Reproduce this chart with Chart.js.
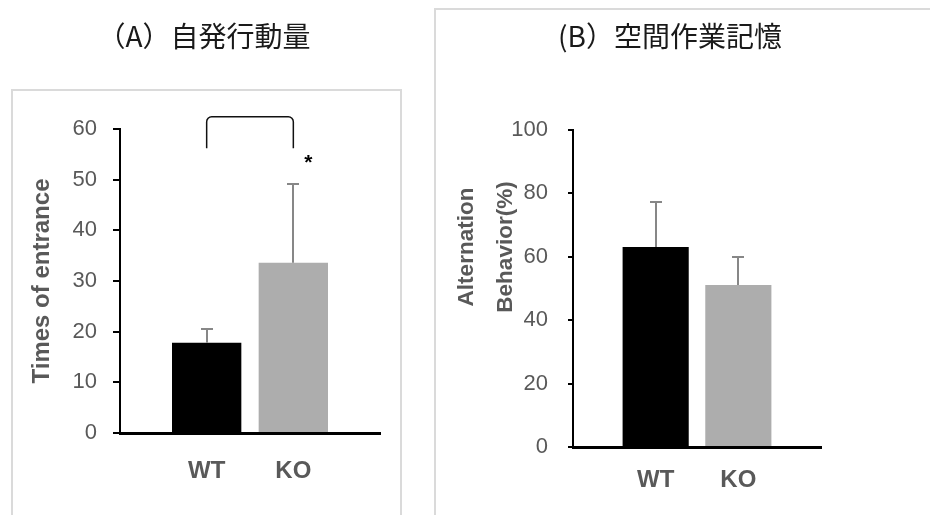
<!DOCTYPE html>
<html><head><meta charset="utf-8">
<script src="https://cdn.jsdelivr.net/npm/chart.js@4"></script>
<style>
html,body{margin:0;padding:0;background:#fff;width:930px;height:515px;overflow:hidden;position:relative}
.panel{position:absolute;box-sizing:border-box;border:2px solid #dadada;}
#pa{left:11px;top:89px;width:391px;height:500px}
#pb{left:434px;top:8px;width:600px;height:600px}
#ca{position:absolute;left:0;top:0}
#cb{position:absolute;left:410px;top:0}
.ttl{position:absolute;width:400px;text-align:center;font-family:"Noto Sans CJK JP",sans-serif;font-size:28px;line-height:28px;color:#1a1a1a;white-space:nowrap}
#ta{left:4px;top:21px}
#tb{left:470px;top:21px}
</style></head>
<body>
<div class="panel" id="pa"></div><div class="panel" id="pb"></div>
<canvas id="ca" width="420" height="515"></canvas>
<canvas id="cb" width="520" height="515"></canvas>
<div class="ttl" id="ta"></div>
<div class="ttl" id="tb"></div>
<script>
// ---- data ----
const groups = ['WT', 'KO'];
const entranceMeans = [17.8, 33.6];
const entranceErrors = [2.7, 15.5];
const entranceTicks = [0, 10, 20, 30, 40, 50, 60];
const alternationMeans = [63.1, 51.1];
const alternationErrors = [14.2, 8.8];
const alternationTicks = [0, 20, 40, 60, 80, 100];
const titleA = '（A）自発行動量';
const titleB = '(B）空間作業記憶';
const yTitleA = 'Times of entrance';
const yTitleB = ['Alternation', 'Behavior(%)'];
const barColors = ['#000000', '#adadad'];
const significanceMark = '*';

document.getElementById('ta').textContent = titleA;
document.getElementById('tb').textContent = titleB;

// ---- helpers ----
const pad = arr => [null, ...arr, null];
const padLabels = ['', ...groups, ''];

const errorBars = {
  id: 'errorBars',
  afterDatasetsDraw(chart, args, opts) {
    const {ctx} = chart;
    const meta = chart.getDatasetMeta(0);
    const ys = chart.scales.y;
    const vals = chart.data.datasets[0].data;
    ctx.save();
    ctx.strokeStyle = opts.color;
    ctx.lineWidth = opts.width;
    meta.data.forEach((el, i) => {
      const v = vals[i], e = opts.errors[i];
      if (v == null || e == null) return;
      const x = Math.round(el.x);
      const y0 = ys.getPixelForValue(v);
      const y1 = Math.round(ys.getPixelForValue(v + e));
      ctx.beginPath();
      ctx.moveTo(x, y0);
      ctx.lineTo(x, y1);
      ctx.moveTo(x - opts.cap, y1);
      ctx.lineTo(x + opts.cap, y1);
      ctx.stroke();
    });
    ctx.restore();
  }
};

const bracket = {
  id: 'bracket',
  afterDatasetsDraw(chart, args, opts) {
    if (!opts || !opts.show) return;
    const {ctx} = chart;
    const xs = chart.scales.x, ys = chart.scales.y;
    const x1 = xs.getPixelForValue(padLabels.indexOf(opts.from));
    const x2 = xs.getPixelForValue(padLabels.indexOf(opts.to));
    const yt = ys.getPixelForValue(opts.top);
    const yb = ys.getPixelForValue(opts.bottom);
    const r = 5;
    ctx.save();
    ctx.strokeStyle = '#111';
    ctx.lineWidth = 1.5;
    ctx.beginPath();
    ctx.moveTo(x1, yb);
    ctx.lineTo(x1, yt + r);
    ctx.arcTo(x1, yt, x1 + r, yt, r);
    ctx.lineTo(x2 - r, yt);
    ctx.arcTo(x2, yt, x2, yt + r, r);
    ctx.lineTo(x2, yb);
    ctx.stroke();
    ctx.fillStyle = '#000';
    ctx.font = 'bold 21px "Liberation Sans", Arial, sans-serif';
    ctx.textAlign = 'center';
    ctx.textBaseline = 'middle';
    ctx.fillText(significanceMark, x2 + 15, ys.getPixelForValue(opts.star));
    ctx.restore();
  }
};

const sideTitle = {
  id: 'sideTitle',
  afterDraw(chart, args, opts) {
    if (!opts || !opts.lines) return;
    const {ctx, chartArea} = chart;
    ctx.save();
    ctx.fillStyle = '#595959';
    ctx.font = 'bold 22.5px "Liberation Sans", Arial, sans-serif';
    ctx.textAlign = 'center';
    ctx.textBaseline = 'middle';
    opts.lines.forEach((t, i) => {
      ctx.save();
      ctx.translate(chartArea.left + opts.offsets[i], chartArea.top + opts.dy);
      ctx.rotate(-Math.PI / 2);
      ctx.fillText(t, 0, 0);
      ctx.restore();
    });
    ctx.restore();
  }
};

function makeChart(id, cfg) {
  return new Chart(document.getElementById(id), {
    type: 'bar',
    data: {
      labels: padLabels,
      datasets: [{
        data: pad(cfg.means),
        backgroundColor: pad(barColors).map(c => c || 'transparent'),
        borderWidth: 0,
        barPercentage: 0.8,
        categoryPercentage: 1.0
      }]
    },
    options: {
      responsive: false,
      animation: false,
      events: [],
      layout: {padding: {left: 0, right: cfg.padRight, top: cfg.padTop, bottom: 0}},
      plugins: {
        legend: {display: false},
        tooltip: {enabled: false},
        title: {display: false},
        errorBars: {errors: pad(cfg.errors), color: '#878787', width: 2, cap: 6},
        bracket: cfg.bracket || {show: false},
        sideTitle: cfg.sideTitle || {}
      },
      scales: {
        x: {
          type: 'category',
          offset: false,
          grid: {display: false, drawTicks: false},
          border: {display: true, color: '#000', width: 3},
          ticks: {
            autoSkip: false, maxRotation: 0, minRotation: 0,
            color: '#595959',
            font: {family: '"Liberation Sans", Arial, sans-serif', size: 24, weight: 'bold', lineHeight: 1.2},
            padding: cfg.xPad
          },
          afterFit: s => { s.height = cfg.xHeight; }
        },
        y: {
          min: cfg.ticks[0],
          max: cfg.ticks[cfg.ticks.length - 1],
          afterBuildTicks: s => { s.ticks = cfg.ticks.map(v => ({value: v})); },
          grid: {display: true, drawOnChartArea: false, drawTicks: true, tickLength: cfg.tickLen, color: '#000', lineWidth: 2},
          border: {display: true, color: '#000', width: 2},
          ticks: {
            color: '#595959',
            font: {family: '"Liberation Sans", Arial, sans-serif', size: 22},
            padding: cfg.yPad
          },
          title: cfg.yTitle ? {
            display: true,
            text: cfg.yTitle,
            color: '#595959',
            font: {family: '"Liberation Sans", Arial, sans-serif', size: 24, weight: 'bold', lineHeight: 1.2},
            padding: {top: 27.6, bottom: 0}
          } : {display: false},
          afterFit: s => { s.width = cfg.yWidth; }
        }
      }
    },
    plugins: [errorBars, bracket, sideTitle]
  });
}

makeChart('ca', {
  means: entranceMeans, errors: entranceErrors, ticks: entranceTicks,
  padTop: 129, padRight: 40, xHeight: 82, xPad: 24, yWidth: 120, yPad: 16, tickLen: 7,
  yTitle: yTitleA,
  bracket: {show: true, from: 'WT', to: 'KO', top: 62.4, bottom: 56.2, star: 53.2}
});

makeChart('cb', {
  means: alternationMeans, errors: alternationErrors, ticks: alternationTicks,
  padTop: 130, padRight: 109, xHeight: 68, xPad: 19, yWidth: 163, yPad: 20, tickLen: 5,
  yTitle: null,
  sideTitle: {lines: yTitleB, offsets: [-106, -67], dy: 117}
});
</script>
</body></html>
